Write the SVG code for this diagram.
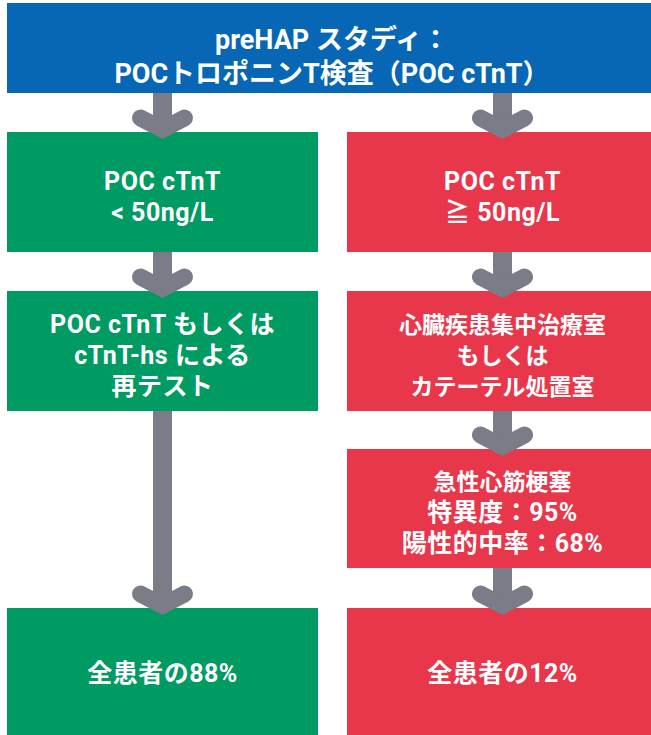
<svg xmlns="http://www.w3.org/2000/svg" xmlns:xlink="http://www.w3.org/1999/xlink" width="651" height="735" viewBox="0 0 651 735">
<style>
.blue{fill:#0767b5}
.green{fill:#009a63}
.red{fill:#e8374b}
.t{fill:#fff;font-family:Roboto,"Noto Sans CJK JP",sans-serif;font-weight:bold;text-anchor:middle}
.title{font-size:27px}
.b{font-size:25px;letter-spacing:0.5px}
.s{font-size:23px}
.shaft{fill:#7a7c87}
.head{fill:none;stroke:#7a7c87;stroke-width:17;stroke-linecap:round;stroke-linejoin:miter}
</style>
<defs>
<path id="head" class="head" d="M-22,-14 L0,-2.5 L22,-14"/>
</defs>
<rect width="651" height="735" fill="#fff"/>
<g id="title">
<rect class="blue" x="7" y="3" width="651" height="90"/>
<text class="t title" x="332" y="49">preHAP スタディ：</text>
<text class="t title" x="332" y="83">POCトロポニンT検査（POC cTnT）</text>
</g>
<g id="low1">
<rect class="green" x="7" y="132" width="311" height="120"/>
<text class="t b" x="162.5" y="190">POC cTnT</text>
<text class="t b" x="162.5" y="221">&lt; 50ng/L</text>
</g>
<g id="high1">
<rect class="red" x="347" y="132" width="311" height="120"/>
<text class="t b" x="502.5" y="190">POC cTnT</text>
<text class="t b" x="502.5" y="221">≧ 50ng/L</text>
</g>
<g id="low2">
<rect class="green" x="7" y="291" width="311" height="120"/>
<text class="t b" x="162.5" y="333">POC cTnT もしくは</text>
<text class="t b" x="162.5" y="364">cTnT-hs による</text>
<text class="t b" x="162.5" y="395">再テスト</text>
</g>
<g id="high2">
<rect class="red" x="347" y="291" width="311" height="120"/>
<text class="t s" x="502.5" y="333">心臓疾患集中治療室</text>
<text class="t s" x="502.5" y="364">もしくは</text>
<text class="t s" x="502.5" y="395">カテーテル処置室</text>
</g>
<g id="high3">
<rect class="red" x="347" y="449" width="311" height="119"/>
<text class="t s" x="502.5" y="490">急性心筋梗塞</text>
<text class="t b" x="502.5" y="521">特異度：95%</text>
<text class="t b" x="502.5" y="552">陽性的中率：68%</text>
</g>
<g id="low3">
<rect class="green" x="7" y="608" width="311" height="127"/>
<text class="t b" x="162.5" y="682">全患者の88%</text>
</g>
<g id="high4">
<rect class="red" x="347" y="608" width="311" height="127"/>
<text class="t b" x="502.5" y="682">全患者の12%</text>
</g>
<g id="connectors">
<rect class="shaft" x="153" y="93" width="19" height="33"/>
<use xlink:href="#head" x="162.5" y="132"/>
<rect class="shaft" x="493" y="93" width="19" height="33"/>
<use xlink:href="#head" x="502.5" y="132"/>
<rect class="shaft" x="153" y="252" width="19" height="33"/>
<use xlink:href="#head" x="162.5" y="291"/>
<rect class="shaft" x="493" y="252" width="19" height="33"/>
<use xlink:href="#head" x="502.5" y="291"/>
<rect class="shaft" x="153" y="411" width="19" height="191"/>
<use xlink:href="#head" x="162.5" y="608"/>
<rect class="shaft" x="493" y="411" width="19" height="32"/>
<use xlink:href="#head" x="502.5" y="449"/>
<rect class="shaft" x="493" y="568" width="19" height="34"/>
<use xlink:href="#head" x="502.5" y="608"/>
</g>
</svg>
